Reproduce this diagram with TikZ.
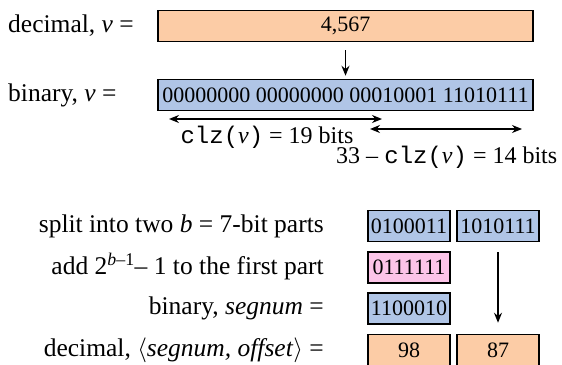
\documentclass[tikz,border=0pt]{standalone}
\usepackage{fontspec}
\setmainfont{Liberation Serif}
\setmonofont{Liberation Mono}
\usetikzlibrary{arrows.meta}
\definecolor{peachbox}{RGB}{252,204,166}
\definecolor{bluebox}{RGB}{176,197,230}
\definecolor{pinkbox}{RGB}{252,196,232}
\tikzset{
  bitbox/.style={rectangle, draw=black, line width=1.5pt, inner sep=0pt, font=\fontsize{22}{26}\selectfont},
  widebox/.style={bitbox, minimum width=375pt, minimum height=31pt},
  partbox/.style={bitbox, minimum width=82pt, minimum height=31pt},
  lbl/.style={inner sep=0pt, font=\fontsize{25.5}{30}\selectfont},
  bitslbl/.style={inner sep=0pt, font=\fontsize{24}{28}\selectfont},
  arrow/.style={-{Stealth[length=10pt,width=8pt]}, line width=1.3pt},
  twoarrow/.style={{Stealth[length=10pt,width=8pt]}-{Stealth[length=10pt,width=8pt]}, line width=1.3pt}
}

\begin{document}
\begin{tikzpicture}[x=1pt, y=-1pt]
  \useasboundingbox (0,0) rectangle (562,364);
  % value in decimal and binary
  \node[widebox, fill=peachbox] (dec) at (345.5,26) {4,567};
  \node[widebox, fill=bluebox] (bin) at (345.5,95) {00000000 00000000 00010001 11010111};
  \node[lbl, anchor=west] (declbl) at (8,26) {decimal, \textit{v} =};
  \node[lbl, anchor=west] (binlbl) at (8,95) {binary, \textit{v} =};
  \draw[arrow, shorten <=8pt, shorten >=3pt] (dec) -- (bin);
  % leading zeros and the rest
  \coordinate (clzL) at (169,119); \coordinate (clzR) at (382,119);
  \coordinate (restL) at (370,129); \coordinate (restR) at (522,129);
  \draw[twoarrow] (clzL) -- (clzR);
  \draw[twoarrow] (restL) -- (restR);
  \node[bitslbl] (clzlbl) at (267,137) {\texttt{clz(}\textit{v}\texttt{)} = 19 bits};
  \node[bitslbl, anchor=west] (restlbl) at (336,157) {33 – \texttt{clz(}\textit{v}\texttt{)} = 14 bits};
  % the two parts
  \node[partbox, fill=bluebox] (hi) at (409,226) {0100011};
  \node[partbox, fill=bluebox] (lo) at (498,226) {1010111};
  \node[partbox, fill=pinkbox] (bias) at (409,267.5) {0111111};
  \node[partbox, fill=bluebox] (seg) at (409,308.5) {1100010};
  \node[partbox, fill=peachbox] (segdec) at (409,350) {98};
  \node[partbox, fill=peachbox] (offdec) at (498,350) {87};
  \draw[arrow, shorten <=10pt, shorten >=11pt] (lo) -- (offdec);
  \node[lbl, anchor=east] (splitlbl) at (324,226) {split into two \textit{b} = 7-bit parts};
  \node[lbl, anchor=east] (addlbl) at (324,267) {add 2\textsuperscript{\textit{b}–1}– 1 to the first part};
  \node[lbl, anchor=east] (seglbl) at (324,308) {binary, \textit{segnum} =};
  \node[lbl, anchor=east] (pairlbl) at (324,350) {decimal, $\langle$\textit{segnum, offset}$\rangle$ =};
\end{tikzpicture}
\end{document}
